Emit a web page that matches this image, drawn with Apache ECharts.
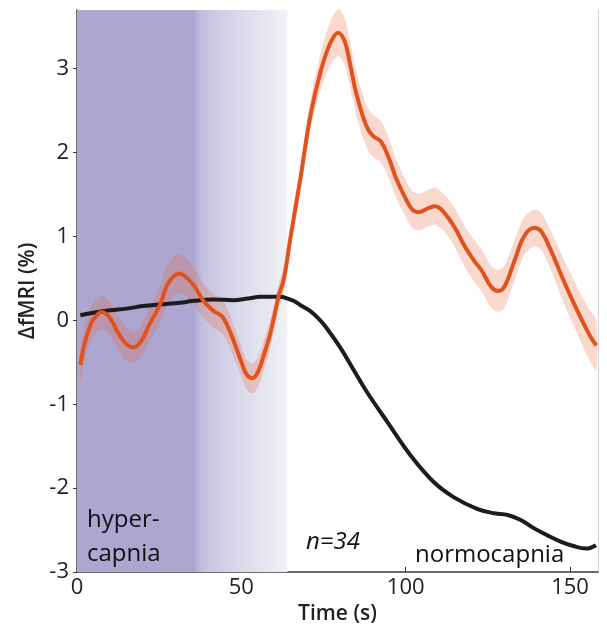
<!DOCTYPE html>
<html>
<head>
<meta charset="utf-8">
<script src="https://cdn.jsdelivr.net/npm/echarts@6/dist/echarts.min.js"></script>
<style>html,body{margin:0;padding:0;background:#fff}#c{width:607px;height:633px}</style>
</head>
<body>
<div id="c"></div>
<script>
// Hypercapnia (orange) mean response: time (s) and ΔfMRI (%)
const hyperTime = [1, 2.5, 4.5, 6, 7.5, 10, 12.5, 15, 17.2, 19.5, 22, 25.3, 27.3, 29.5, 31, 33, 35.5, 38.5, 41.6, 43, 44.5, 46.6, 49.7, 51.5, 53.3, 55, 56.8, 58.5, 59.8, 61.3, 62.9, 65, 68, 71, 74, 77, 79.5, 81.5, 83, 85, 88, 90, 92.5, 95, 97, 100, 102, 104, 107, 109, 112, 115, 118, 121, 123, 126, 128, 130, 133, 136, 139, 141, 144, 147, 150, 153, 156, 158];
const hyperMean = [-0.53, -0.25, -0.02, 0.06, 0.1, 0.03, -0.15, -0.28, -0.32, -0.25, -0.05, 0.19, 0.41, 0.53, 0.56, 0.52, 0.42, 0.23, 0.11, 0.08, 0.03, -0.14, -0.46, -0.64, -0.69, -0.62, -0.42, -0.2, 0.01, 0.28, 0.49, 1.0, 1.7, 2.44, 2.95, 3.3, 3.43, 3.32, 3.07, 2.7, 2.32, 2.2, 2.13, 1.92, 1.7, 1.45, 1.32, 1.29, 1.34, 1.36, 1.27, 1.1, 0.88, 0.7, 0.6, 0.4, 0.35, 0.4, 0.7, 1.0, 1.1, 1.07, 0.85, 0.57, 0.3, 0.05, -0.18, -0.3];
// half-width of the shaded band around the orange mean
const hyperErr = [0.2, 0.2, 0.2, 0.2, 0.2, 0.2, 0.2, 0.2, 0.18, 0.18, 0.2, 0.22, 0.23, 0.23, 0.23, 0.22, 0.22, 0.2, 0.2, 0.2, 0.2, 0.19, 0.18, 0.18, 0.18, 0.18, 0.18, 0.17, 0.16, 0.15, 0.15, 0.15, 0.15, 0.18, 0.22, 0.26, 0.28, 0.28, 0.27, 0.26, 0.25, 0.25, 0.25, 0.24, 0.23, 0.22, 0.22, 0.22, 0.22, 0.22, 0.22, 0.23, 0.24, 0.25, 0.25, 0.25, 0.25, 0.25, 0.24, 0.23, 0.22, 0.22, 0.23, 0.25, 0.27, 0.28, 0.3, 0.3];
// Normocapnia (black) response
const normoTime = [1, 5, 10, 15, 20, 25, 31.4, 35, 41.5, 47.6, 52, 55.8, 61.9, 64, 66, 68, 71, 74, 76.1, 80, 84, 88.3, 94.4, 101.5, 108.6, 114.7, 121.9, 127, 131, 135, 139.1, 143, 147.3, 151, 154.9, 157.9];
const normoMean = [0.06, 0.09, 0.12, 0.14, 0.17, 0.19, 0.21, 0.23, 0.25, 0.24, 0.26, 0.28, 0.28, 0.26, 0.23, 0.18, 0.11, 0.0, -0.1, -0.32, -0.58, -0.86, -1.21, -1.61, -1.93, -2.11, -2.25, -2.3, -2.32, -2.38, -2.48, -2.56, -2.64, -2.69, -2.72, -2.68];
// axis ticks
const xTicks = [0, 50, 100, 150];
const yTicks = [-3, -2, -1, 0, 1, 2, 3];
// stimulus period shading (s): solid until fadeStart, then fading out until end
const hyperPeriod = [0, 64];
const fadeStart = 35.5;

const FONT = '"Open Sans", "Noto Sans", sans-serif';
const bandData = hyperTime.map((t, i) => [t, hyperMean[i] - hyperErr[i], hyperMean[i] + hyperErr[i]]);
const meanData = hyperTime.map((t, i) => [t, hyperMean[i]]);
const normoData = normoTime.map((t, i) => [t, normoMean[i]]);
const f0 = (fadeStart - hyperPeriod[0]) / (hyperPeriod[1] - hyperPeriod[0]);

function renderBand(params, api) {
  if (params.dataIndex !== 0) return null;
  const upper = bandData.map(d => api.coord([d[0], d[2]]));
  const lower = bandData.map(d => api.coord([d[0], d[1]])).reverse();
  return {
    type: 'polygon',
    shape: {points: upper.concat(lower), smooth: 0.3},
    style: {fill: 'rgba(232,105,60,0.26)', stroke: 'none'}
  };
}

const chart = echarts.init(document.getElementById('c'), null, {renderer: 'canvas'});
chart.setOption({
  animation: false,
  backgroundColor: '#ffffff',
  grid: {left: 77, right: 9, top: 10, bottom: 61, containLabel: false},
  xAxis: {
    type: 'value', min: 0, max: 158.5, interval: 50,
    name: 'Time (s)', nameLocation: 'middle', nameGap: 32,
    nameTextStyle: {fontFamily: FONT, fontSize: 21, fontWeight: 600, color: '#222'},
    axisLine: {show: true, onZero: false, lineStyle: {color: '#3a3a3a', width: 1.5}},
    axisTick: {show: true, inside: true, length: 5, customValues: xTicks, lineStyle: {color: '#3a3a3a', width: 1}},
    axisLabel: {customValues: xTicks, fontFamily: FONT, fontSize: 22, color: '#222', margin: 5},
    splitLine: {show: false}
  },
  yAxis: [{
    type: 'value', min: -3, max: 3.7, interval: 1,
    name: 'ΔfMRI (%)', nameLocation: 'middle', nameGap: 28,
    nameTextStyle: {fontFamily: FONT, fontSize: 21, fontWeight: 600, color: '#222'},
    axisLine: {show: true, onZero: false, lineStyle: {color: '#3a3a3a', width: 1.5}},
    axisTick: {show: true, inside: false, length: 4, customValues: yTicks, lineStyle: {color: '#3a3a3a', width: 1}},
    axisLabel: {customValues: yTicks, fontFamily: FONT, fontSize: 22, color: '#222', margin: 8},
    splitLine: {show: false}
  }, {
    type: 'value', min: -3, max: 3.7, position: 'right',
    axisLine: {show: true, onZero: false, lineStyle: {color: '#cfcfdc', width: 1}},
    axisTick: {show: false}, axisLabel: {show: false}, splitLine: {show: false}
  }],
  series: [
    {
      type: 'line', data: [], silent: true, z: 1,
      markArea: {
        silent: true,
        data: [
          [{xAxis: hyperPeriod[0], itemStyle: {opacity: 1, color: new echarts.graphic.LinearGradient(0, 0, 1, 0, [
            {offset: 0, color: '#aca6d1'},
            {offset: f0, color: '#aca6d1'},
            {offset: f0 + 0.04, color: '#c3c1de'},
            {offset: f0 + 0.2, color: '#d8d7e9'},
            {offset: 1, color: '#f1f1f6'}
          ])}}, {xAxis: hyperPeriod[1]}]
        ]
      }
    },
    {
      type: 'line', data: normoData, smooth: 0.4, symbol: 'none', z: 3,
      lineStyle: {color: '#1c1c1c', width: 4}
    },
    {
      type: 'custom', data: bandData, renderItem: renderBand, z: 2, silent: true,
      encode: {x: 0, y: [1, 2]}
    },
    {
      type: 'line', data: meanData, smooth: 0.4, symbol: 'none', z: 4,
      lineStyle: {color: '#e1531e', width: 4}
    }
  ],
  graphic: [
    {type: 'text', z: 100, left: 87, top: 508, style: {text: 'hyper-', font: '24px ' + FONT, fill: '#111'}},
    {type: 'text', z: 100, left: 87, top: 542, style: {text: 'capnia', font: '24px ' + FONT, fill: '#111'}},
    {type: 'text', z: 100, left: 306, top: 530, style: {text: 'n=34', font: 'italic 24px ' + FONT, fill: '#111'}},
    {type: 'text', z: 100, left: 415, top: 543, style: {text: 'normocapnia', font: '24px ' + FONT, fill: '#111'}}
  ]
});
</script>
</body>
</html>
